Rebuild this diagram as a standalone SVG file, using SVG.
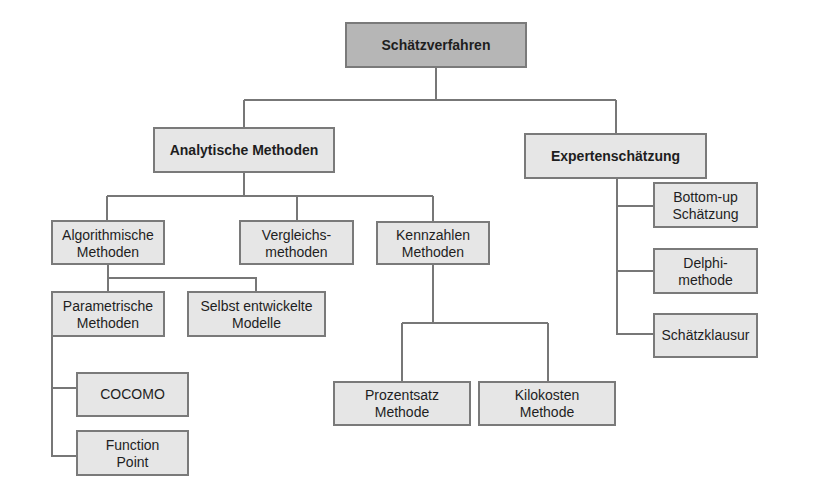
<svg xmlns="http://www.w3.org/2000/svg" width="815" height="491" viewBox="0 0 815 491">
<style>
.b{fill:#e6e6e6;stroke:#7a7a7a;stroke-width:2}
.r{fill:#b6b6b6;stroke:#7a7a7a;stroke-width:2}
text{font-family:"Liberation Sans",Arial,sans-serif;font-size:14px;fill:#1e1e1e;text-anchor:middle}
.h{font-weight:bold}
.c{fill:none;stroke:#777;stroke-width:2}
</style>
<rect width="815" height="491" fill="#fff"/>
<g id="connectors">
<path class="c" d="M436 67V100M244 100H616M244 100V128M616 100V134"/>
<path class="c" d="M244 172V196M107 196H433M107 196V221M297 196V221M433 196V222"/>
<path class="c" d="M108 264V278H256V292M108 278V292"/>
<path class="c" d="M52 336V456H77M52 388H77"/>
<path class="c" d="M433 264V323M402 323H548M402 323V382M548 323V382"/>
<path class="c" d="M617 178V334H654M617 206H654M617 271H654"/>
</g>
<g id="root"><rect class="r" x="346" y="23" width="180" height="44"/><text class="h" x="436" y="50">Schätzverfahren</text></g>
<g id="analytic"><rect class="b" x="154" y="128" width="180" height="44"/><text class="h" x="244" y="155">Analytische Methoden</text></g>
<g id="expert"><rect class="b" x="525" y="134" width="181" height="44"/><text class="h" x="615.5" y="161">Expertenschätzung</text></g>
<g id="algo"><rect class="b" x="52" y="221" width="112" height="43"/><text x="108" y="240">Algorithmische</text><text x="108" y="257">Methoden</text></g>
<g id="vergleich"><rect class="b" x="240" y="221" width="113" height="43"/><text x="296.5" y="240">Vergleichs-</text><text x="296.5" y="257">methoden</text></g>
<g id="kennzahlen"><rect class="b" x="377" y="222" width="112" height="42"/><text x="433" y="240">Kennzahlen</text><text x="433" y="257">Methoden</text></g>
<g id="param"><rect class="b" x="52" y="292" width="112" height="44"/><text x="108" y="311">Parametrische</text><text x="108" y="328">Methoden</text></g>
<g id="selbst"><rect class="b" x="188" y="292" width="137" height="44"/><text x="256.5" y="311">Selbst entwickelte</text><text x="256.5" y="328">Modelle</text></g>
<g id="cocomo"><rect class="b" x="77" y="373" width="111" height="43"/><text x="132.5" y="399">COCOMO</text></g>
<g id="function"><rect class="b" x="77" y="431" width="111" height="44"/><text x="132.5" y="450">Function</text><text x="132.5" y="467">Point</text></g>
<g id="prozent"><rect class="b" x="334" y="382" width="136" height="43"/><text x="402" y="400">Prozentsatz</text><text x="402" y="417">Methode</text></g>
<g id="kilo"><rect class="b" x="479" y="382" width="136" height="43"/><text x="547" y="400">Kilokosten</text><text x="547" y="417">Methode</text></g>
<g id="bottomup"><rect class="b" x="654" y="183" width="103" height="44"/><text x="705.5" y="202">Bottom-up</text><text x="705.5" y="219">Schätzung</text></g>
<g id="delphi"><rect class="b" x="654" y="249" width="103" height="44"/><text x="705.5" y="268">Delphi-</text><text x="705.5" y="285">methode</text></g>
<g id="klausur"><rect class="b" x="654" y="314" width="103" height="43"/><text x="705.5" y="340">Schätzklausur</text></g>
</svg>
